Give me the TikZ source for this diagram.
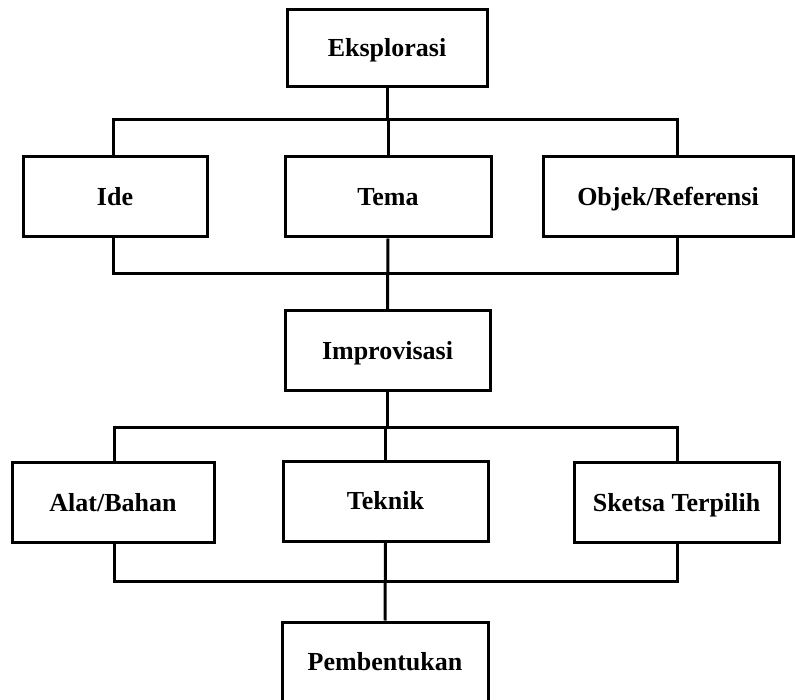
\documentclass[tikz,border=0pt]{standalone}
\usepackage{fontspec}
\setmainfont{Liberation Serif}
\begin{document}
\begin{tikzpicture}[x=1pt,y=-1pt,line width=3pt,
  kotak/.style={draw,minimum width=#1,minimum height=80pt,inner sep=0pt,
    text height=17pt,text depth=0pt,
    font=\fontsize{26}{30}\selectfont\bfseries}]
\useasboundingbox (0,0) rectangle (795,700);
\node[kotak=200pt,minimum height=77pt] (eks) at (387,48.5) {Eksplorasi};
\node[kotak=184pt] (ide) at (115,197) {Ide};
\node[kotak=206pt] (tema) at (388,197) {Tema};
\node[kotak=250pt] (objek) at (668,197) {Objek/Referensi};
\node[kotak=205pt] (imp) at (387.5,351) {Improvisasi};
\node[kotak=202pt] (alat) at (113,502.5) {Alat/Bahan};
\node[kotak=205pt] (teknik) at (385.5,501) {Teknik};
\node[kotak=205pt] (sketsa) at (676.5,502.5) {Sketsa Terpilih};
\node[kotak=206pt] (bentuk) at (385,662) {Pembentukan};
\coordinate (a1) at (113,120);
\coordinate (a2) at (677,120);
\coordinate (b1) at (113,274);
\coordinate (b2) at (677,274);
\coordinate (c1) at (114,427);
\coordinate (c2) at (677,427);
\coordinate (d1) at (114,581);
\coordinate (d2) at (677,581);
\draw (a1 |- ide.north) -- (a1) -- (a2) -- (a2 |- objek.north);
\draw (eks.south) -- (eks.south |- a1);
\draw (tema.north) -- (tema.north |- a1);
\draw (b1 |- ide.south) -- (b1) -- (b2) -- (b2 |- objek.south);
\draw (tema.south) -- (imp.north);
\draw (c1 |- alat.north) -- (c1) -- (c2) -- (c2 |- sketsa.north);
\draw (imp.south) -- (imp.south |- c1);
\draw (teknik.north) -- (teknik.north |- c1);
\draw (d1 |- alat.south) -- (d1) -- (d2) -- (d2 |- sketsa.south);
\draw (teknik.south) -- (bentuk.north);
\end{tikzpicture}
\end{document}
